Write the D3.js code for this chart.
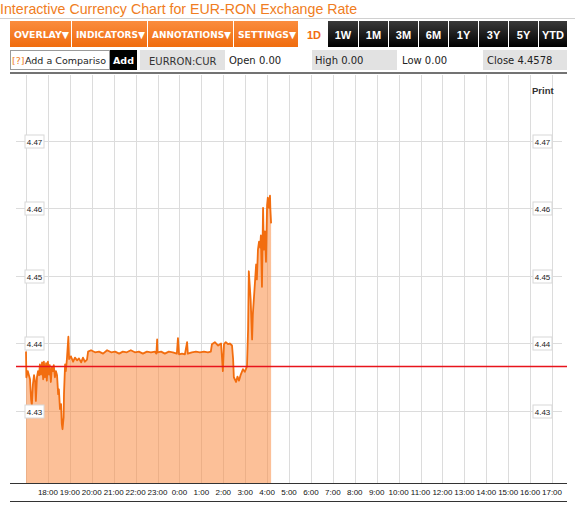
<!DOCTYPE html>
<html><head><meta charset="utf-8">
<script src="https://cdn.jsdelivr.net/npm/d3@7"></script>
<style>
body{margin:0;background:#fff;}
svg{display:block;font-family:"Liberation Sans",Arial,sans-serif;}
</style>
</head><body><svg id="c" width="575" height="505"></svg>
<script>
// ---------- data ----------
const titleText = "Interactive Currency Chart for EUR-RON Exchange Rate";
const menuLabels = ["OVERLAY", "INDICATORS", "ANNOTATIONS", "SETTINGS"];
const activeRange = "1D";
const rangeLabels = ["1W", "1M", "3M", "6M", "1Y", "3Y", "5Y", "YTD"];
const symbol = "EURRON:CUR";
const statNames = ["Open", "High", "Low", "Close"];
const statValues = ["0.00", "0.00", "0.00", "4.4578"];
const yTicks = [4.43, 4.44, 4.45, 4.46, 4.47];
const prevClose = 4.4366;
const sessionStart = "17:00";
const times = [
 "17:00","17:01","17:05","17:11","17:14","17:16","17:19","17:22","17:25","17:27",
 "17:30","17:33","17:36","17:38","17:41","17:44","17:47","17:49","17:52","17:55",
 "17:57","18:00","18:03","18:05","18:08","18:11","18:14","18:16","18:19","18:22",
 "18:25","18:28","18:30","18:33","18:36","18:38","18:40","18:43","18:44","18:47",
 "18:49","18:52","18:56","18:58","19:03","19:09","19:14","19:20","19:25","19:31",
 "19:36","19:41","19:47","19:50","19:58","20:09","20:20","20:31","20:42","20:53",
 "21:04","21:15","21:25","21:36","21:47","21:58","22:09","22:20","22:31","22:42",
 "22:53","22:57","22:59","23:00","23:10","23:20","23:31","23:42","23:53","23:56",
 "23:59","0:07","0:15","0:21","0:23","0:34","0:45","0:56","1:07","1:18",
 "1:26","1:29","1:37","1:46","1:54","1:59","2:02","2:07","2:13","2:18",
 "2:24","2:27","2:29","2:35","2:39","2:43","2:48","2:54","2:59","3:05",
 "3:08","3:10","3:15","3:19","3:21","3:27","3:30","3:32","3:35","3:38",
 "3:41","3:43","3:46","3:49","3:51","3:54","3:57","4:00","4:02","4:05",
 "4:08","4:09","4:11"
];
const values = [
 4.4388,4.4350,4.4359,4.4347,4.4317,4.4309,4.4340,4.4353,4.4343,4.4315,
 4.4350,4.4359,4.4353,4.4369,4.4354,4.4372,4.4347,4.4373,4.4350,4.4371,
 4.4345,4.4373,4.4354,4.4368,4.4343,4.4365,4.4359,4.4368,4.4350,4.4359,
 4.4353,4.4325,4.4332,4.4303,4.4310,4.4281,4.4273,4.4291,4.4325,4.4369,
 4.4359,4.4377,4.4410,4.4377,4.4381,4.4373,4.4379,4.4375,4.4378,4.4372,
 4.4379,4.4373,4.4376,4.4388,4.4390,4.4387,4.4388,4.4385,4.4390,4.4387,
 4.4388,4.4385,4.4388,4.4387,4.4390,4.4387,4.4388,4.4385,4.4388,4.4387,
 4.4388,4.4385,4.4406,4.4387,4.4388,4.4385,4.4388,4.4387,4.4385,4.4408,
 4.4384,4.4385,4.4384,4.4402,4.4385,4.4387,4.4388,4.4387,4.4388,4.4387,
 4.4388,4.4399,4.4402,4.4397,4.4400,4.4359,4.4399,4.4402,4.4399,4.4400,
 4.4397,4.4377,4.4350,4.4343,4.4351,4.4345,4.4354,4.4362,4.4358,4.4366,
 4.4421,4.4507,4.4465,4.4406,4.4443,4.4492,4.4517,4.4495,4.4539,4.4551,
 4.4542,4.4560,4.4484,4.4601,4.4539,4.4566,4.4521,4.4605,4.4616,4.4601,
 4.4619,4.4599,4.4578
];

// ---------- helpers ----------
function toDate(s){
  const [h,m] = s.split(":").map(Number);
  const day = h >= 17 ? 1 : 2;
  return new Date(2016, 0, day, h, m);
}
const series = times.map((t,i)=>({t:toDate(t), v:values[i]}));

const svg = d3.select("#c");
const defs = svg.append("defs");
const gO = defs.append("linearGradient").attr("id","gOrange").attr("x1",0).attr("y1",0).attr("x2",0).attr("y2",1);
gO.append("stop").attr("offset","0%").attr("stop-color","#fa8c3e");
gO.append("stop").attr("offset","100%").attr("stop-color","#f06c0e");
const gB = defs.append("linearGradient").attr("id","gBlack").attr("x1",0).attr("y1",0).attr("x2",0).attr("y2",1);
gB.append("stop").attr("offset","0%").attr("stop-color","#3a3a3a");
gB.append("stop").attr("offset","100%").attr("stop-color","#000");

// ---------- title ----------
svg.append("text").attr("x",0).attr("y",13.5).attr("font-size",14.2)
  .attr("fill","#f07d22").text(titleText);
svg.append("line").attr("x1",0).attr("x2",575).attr("y1",18.5).attr("y2",18.5)
  .attr("stroke","#d0d0d0");

// ---------- menu buttons ----------
const menuEdges = [10,72,148,234,299];
menuLabels.forEach((lab,i)=>{
  const x0 = menuEdges[i], w = menuEdges[i+1]-x0-1;
  svg.append("rect").attr("x",x0).attr("y",21).attr("width",w).attr("height",26)
    .attr("fill","url(#gOrange)");
  const t = svg.append("text").attr("x",x0+4).attr("y",38).attr("font-size",9.5)
    .attr("font-family","DejaVu Sans").attr("font-weight","bold").attr("fill","#fff")
    .text(lab+"▼");
  const avail = w - 6;
  if (t.node().getComputedTextLength() > avail)
    t.attr("textLength",avail).attr("lengthAdjust","spacingAndGlyphs");
});
svg.append("text").attr("x",307).attr("y",38.5).attr("font-size",11).attr("font-weight","bold")
  .attr("fill","#f26c10").text(activeRange);
const rangeEdges = [328,359,389,419,449,479,509,539,568];
rangeLabels.forEach((lab,i)=>{
  const x0 = rangeEdges[i], w = rangeEdges[i+1]-x0-1;
  svg.append("rect").attr("x",x0).attr("y",21).attr("width",w).attr("height",26).attr("fill","url(#gBlack)");
  svg.append("text").attr("x",x0+w/2).attr("y",38.5).attr("text-anchor","middle")
    .attr("font-size",11).attr("font-weight","bold").attr("fill","#fff").text(lab);
});

// ---------- second row ----------
const rowFont = "DejaVu Sans";
svg.append("rect").attr("x",10.5).attr("y",50.5).attr("width",99).attr("height",19)
  .attr("fill","#fff").attr("stroke","#9a9a9a");
svg.append("text").attr("x",12).attr("y",64).attr("font-size",9.5).attr("font-family",rowFont)
  .attr("fill","#f07d22").text("[?]");
svg.append("text").attr("x",25).attr("y",64).attr("font-size",9.5).attr("font-family",rowFont)
  .attr("fill","#222").text("Add a Compariso");
svg.append("rect").attr("x",110).attr("y",50).attr("width",27).attr("height",20).attr("fill","#000");
svg.append("text").attr("x",123.5).attr("y",64).attr("text-anchor","middle").attr("font-size",9.5)
  .attr("font-family",rowFont).attr("font-weight","bold").attr("fill","#fff").text("Add");
svg.append("rect").attr("x",140).attr("y",50).attr("width",85).attr("height",20).attr("fill","#e2e2e2");
svg.append("text").attr("x",149).attr("y",64.5).attr("font-size",10).attr("font-family",rowFont)
  .attr("fill","#333").text(symbol);
const statBoxes = [null,[312,85],null,[483,84]];
const statX = [229,315,402,487];
statNames.forEach((n,i)=>{
  if(statBoxes[i]) svg.append("rect").attr("x",statBoxes[i][0]).attr("y",50).attr("width",statBoxes[i][1])
     .attr("height",20).attr("fill","#e2e2e2");
  svg.append("text").attr("x",statX[i]).attr("y",64).attr("font-size",10).attr("font-family",rowFont)
    .attr("fill","#222").text(n+" "+statValues[i]);
});
svg.append("line").attr("x1",10).attr("x2",567).attr("y1",73).attr("y2",73)
  .attr("stroke","#444").attr("stroke-width",1.5);

// ---------- chart ----------
const plotTop = 75, plotBottom = 483;
const x = d3.scaleTime().domain([toDate(sessionStart), new Date(2016,0,2,17,0)]).range([26,552]);
const y = d3.scaleLinear().domain([4.43,4.47]).range([411,141]);

const hourTicks = x.ticks(d3.timeHour.every(1));
svg.append("g").selectAll("line").data(hourTicks).join("line")
  .attr("x1",d=>Math.round(x(d))+0.5).attr("x2",d=>Math.round(x(d))+0.5)
  .attr("y1",plotTop).attr("y2",plotBottom)
  .attr("stroke","#dcdcdc").attr("stroke-width",1);
svg.append("g").selectAll("line").data(yTicks).join("line")
  .attr("x1",16).attr("x2",562)
  .attr("y1",d=>Math.round(y(d))+0.5).attr("y2",d=>Math.round(y(d))+0.5)
  .attr("stroke","#dcdcdc");

const area = d3.area().x(d=>x(d.t)).y0(plotBottom).y1(d=>y(d.v));
svg.append("path").datum(series).attr("d",area).attr("fill","rgba(250,140,68,0.55)");
const line = d3.line().x(d=>x(d.t)).y(d=>y(d.v));
svg.append("path").datum(series).attr("d",line).attr("fill","none")
  .attr("stroke","#f26d0f").attr("stroke-width",1.8).attr("stroke-linejoin","round");

svg.append("line").attr("x1",16).attr("x2",567)
  .attr("y1",y(prevClose)).attr("y2",y(prevClose))
  .attr("stroke","#e8141c").attr("stroke-width",1.6);

[34.5, 542.5].forEach(cx=>{
  const g = svg.append("g");
  g.selectAll("rect").data(yTicks).join("rect")
    .attr("x",cx-9.5).attr("y",d=>Math.round(y(d))-6).attr("width",19).attr("height",13)
    .attr("fill","#fff").attr("stroke","#d8d8d8");
  g.selectAll("text").data(yTicks).join("text")
    .attr("x",cx).attr("y",d=>Math.round(y(d))+3.5).attr("text-anchor","middle")
    .attr("font-size",8).attr("fill","#222").text(d=>d3.format(".2f")(d));
});

svg.append("text").attr("x",532).attr("y",93.5).attr("font-size",9.5).attr("font-weight","bold")
  .attr("fill","#333").text("Print");

svg.append("line").attr("x1",10).attr("x2",567).attr("y1",483.5).attr("y2",483.5).attr("stroke","#333");
svg.append("line").attr("x1",10).attr("x2",567).attr("y1",501.5).attr("y2",501.5).attr("stroke","#333");
const fmt = d3.timeFormat("%-H:%M");
svg.append("g").selectAll("text").data(hourTicks.slice(1)).join("text")
  .attr("x",d=>x(d)).attr("y",495).attr("text-anchor","middle")
  .attr("font-size",8).attr("fill","#111").text(d=>fmt(d));
</script>
</body></html>
